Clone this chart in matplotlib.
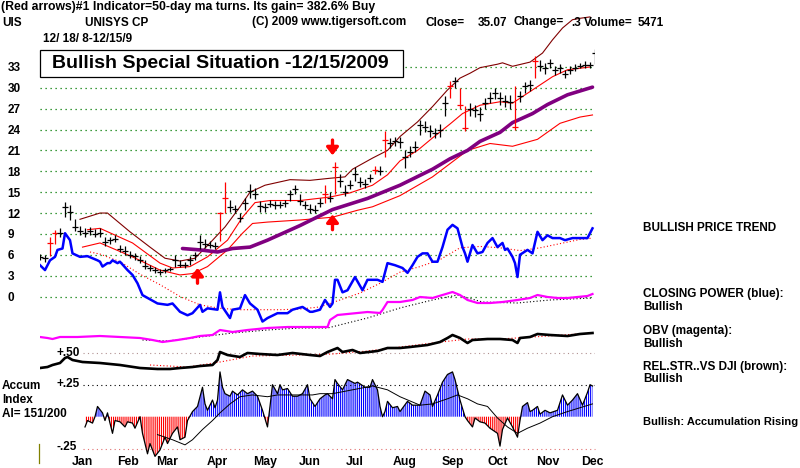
import matplotlib
matplotlib.use("Agg")
import matplotlib.pyplot as plt
from matplotlib.patches import Rectangle
from matplotlib.lines import Line2D
import numpy as np

plt.rcParams["font.family"] = ["Liberation Sans", "DejaVu Sans"]
plt.rcParams["font.weight"] = "bold"
plt.rcParams["hatch.linewidth"] = 0.8

W, H = 800, 468

# price bars, one bar for every two sessions, 12/18/08 .. 12/15/09
bar_close = [5.7, 5.5, 7.7, 9.2, 9.2, 12.8, 12.2, 10.0, 9.4, 9.1,
             9.4, 9.0, 9.2, 7.9, 8.1, 8.3, 6.9, 6.5, 6.0, 5.8,
             5.2, 4.4, 4.1, 3.8, 3.5, 3.8, 3.9, 5.3, 4.6, 4.5,
             5.3, 5.9, 7.9, 7.6, 7.4, 7.3, 12.0, 14.2, 12.9, 12.6,
             11.3, 13.5, 15.2, 14.8, 13.0, 12.8, 13.3, 13.1, 13.2, 13.4,
             14.8, 15.4, 13.8, 13.2, 12.6, 12.5, 13.5, 14.8, 14.2, 18.6,
             16.6, 15.0, 16.1, 17.6, 16.4, 16.2, 17.0, 18.2, 18.0, 22.5,
             22.0, 22.3, 22.2, 20.0, 20.8, 21.5, 24.6, 24.4, 23.8, 23.5,
             24.0, 27.8, 30.2, 31.0, 27.5, 24.2, 27.0, 26.8, 26.3, 27.8,
             28.6, 29.3, 28.6, 28.1, 28.0, 24.4, 28.8, 30.2, 30.4, 33.8,
             33.2, 32.8, 33.6, 32.5, 32.8, 32.0, 32.6, 32.9, 33.2, 33.3,
             33.3, 35.0]
bar_low = [5.2, 5.0, 5.8, 7.5, 8.5, 11.5, 11.0, 9.4, 8.8, 8.6,
           8.8, 8.5, 8.6, 7.2, 7.6, 7.8, 6.4, 6.0, 5.6, 5.3,
           4.8, 4.0, 3.7, 3.4, 3.1, 3.4, 3.6, 4.3, 4.2, 4.1,
           4.5, 5.2, 6.8, 7.0, 7.0, 6.9, 8.0, 12.0, 12.2, 12.0,
           10.7, 12.5, 14.2, 14.0, 12.2, 12.2, 12.8, 12.6, 12.7, 12.9,
           13.8, 14.7, 13.2, 12.6, 12.0, 12.0, 12.9, 13.5, 13.6, 14.8,
           15.8, 14.4, 15.4, 16.6, 15.8, 15.6, 16.4, 17.6, 17.4, 20.0,
           21.3, 21.6, 21.4, 18.5, 20.0, 20.8, 23.2, 23.6, 23.0, 22.8,
           23.0, 26.0, 28.6, 30.0, 27.0, 23.8, 26.0, 25.8, 25.2, 27.0,
           27.8, 28.4, 27.6, 27.2, 27.0, 24.0, 28.0, 29.2, 29.6, 31.4,
           32.4, 32.0, 32.8, 31.8, 32.2, 31.4, 32.0, 32.4, 32.8, 32.9,
           32.9, 33.4]
bar_high = [6.1, 6.0, 8.5, 9.5, 9.8, 13.6, 13.2, 11.2, 10.2, 9.8,
            10.0, 9.7, 9.9, 8.6, 8.6, 8.8, 7.4, 7.2, 6.6, 6.3,
            5.8, 5.2, 4.6, 4.2, 4.0, 4.1, 4.2, 6.0, 5.3, 5.0,
            5.8, 6.4, 8.8, 8.3, 8.0, 7.9, 12.2, 16.4, 13.9, 13.2,
            12.0, 14.2, 16.2, 15.6, 13.8, 13.4, 13.9, 13.7, 13.7, 13.9,
            15.3, 16.0, 14.8, 13.8, 13.3, 13.2, 14.2, 16.0, 15.0, 19.3,
            17.6, 16.0, 16.8, 18.6, 17.2, 16.9, 17.6, 18.7, 18.7, 23.8,
            22.8, 23.0, 23.0, 21.0, 21.6, 22.4, 25.4, 25.2, 24.6, 24.2,
            24.8, 28.8, 31.0, 31.6, 30.0, 27.4, 27.8, 27.6, 27.2, 28.6,
            29.4, 30.0, 29.4, 29.0, 29.0, 30.2, 29.6, 30.8, 31.2, 34.6,
            34.0, 33.6, 34.2, 33.2, 33.4, 32.6, 33.2, 33.4, 33.6, 33.8,
            33.7, 35.6]
red_bars = [2, 3, 36, 37, 57, 59, 67, 69, 82, 84, 85, 95, 99]

# bands and moving averages (session, price)
upper_days = [16, 24, 27, 36, 44, 50, 56, 62, 68, 74, 80, 84, 90, 100, 108, 116,
              122, 125, 133, 139, 144, 151, 157, 163, 168, 172, 176, 183, 185,
              189, 196, 201, 205, 209, 213, 216, 220]
upper_vals = [11.1, 12.0, 12.0, 9.3, 7.1, 5.5, 5.1, 5.5, 7.7, 10.0, 12.9, 15.0,
              16.0, 16.8, 16.7, 17.0, 17.2, 18.3, 19.9, 21.0, 23.0, 25.1, 27.3,
              29.7, 31.4, 32.1, 32.9, 33.4, 33.6, 33.1, 33.7, 35.0, 36.9, 38.6,
              39.8, 40.0, 40.2]
mid_days = [19, 24, 37, 48, 53, 60, 67, 75, 81, 86, 92, 104, 116, 124, 133, 139,
            144, 151, 157, 164, 169, 176, 184, 189, 197, 205, 211, 220]
mid_vals = [9.6, 9.8, 7.7, 4.8, 4.1, 4.3, 5.7, 8.1, 11.4, 13.5, 13.8, 13.8, 14.3,
            14.9, 16.0, 17.5, 19.5, 21.0, 22.8, 24.8, 26.3, 27.5, 28.0, 27.8,
            29.7, 31.6, 32.6, 33.0]
lower_days = [17, 24, 37, 48, 56, 61, 67, 75, 81, 85, 91, 104, 117, 127, 133, 144,
              157, 171, 180, 189, 199, 208, 216, 221]
lower_vals = [7.1, 7.7, 5.7, 3.8, 3.1, 3.3, 4.3, 6.7, 9.1, 10.5, 10.7, 11.0, 11.4,
              12.4, 12.9, 14.5, 17.2, 21.0, 22.0, 21.6, 22.6, 24.9, 25.8, 26.1]
ma50_days = [57, 64, 71, 77, 84, 91, 104, 117, 131, 144, 157, 164, 171, 176, 184,
             189, 197, 203, 211, 221]
ma50_vals = [6.9, 6.7, 6.4, 6.9, 7.1, 8.1, 10.2, 12.5, 14.1, 16.0, 18.3, 19.8,
             21.0, 22.3, 23.6, 25.0, 26.3, 27.6, 29.0, 30.1]

# closing power (blue) on the price scale, with its moving average
cp_days = [0, 2, 4, 6, 7, 9, 10, 12, 13, 16, 19, 21, 23, 24, 25, 27, 28, 29, 31,
           32, 35, 37, 39, 41, 47, 51, 53, 56, 59, 61, 64, 65, 67, 71, 72, 73, 76,
           77, 80, 82, 84, 87, 89, 91, 95, 99, 101, 105, 108, 109, 112, 114, 116,
           117, 118, 119, 121, 123, 126, 129, 131, 135, 137, 139, 142, 145, 147,
           149, 151, 153, 155, 157, 159, 161, 163, 165, 167, 169, 170, 171, 173,
           175, 177, 179, 181, 183, 185, 186, 187, 189, 190, 191, 192, 195, 197,
           199, 201, 203, 205, 208, 210, 213, 215, 219, 221]
cp_vals = [4.5, 3.8, 5.2, 5.7, 6.7, 6.9, 9.1, 8.1, 6.2, 5.7, 5.8, 5.5, 5.2, 5.0,
           4.3, 4.8, 4.8, 5.2, 4.8, 5.0, 3.8, 3.1, 1.9, 0.2, -1.0, -1.2, -1.0,
           -2.2, -2.7, -2.4, -1.2, -2.2, -1.7, -1.9, 0.6, -1.5, -3.1, -1.9, -1.7,
           0.2, -1.0, -1.9, -3.6, -3.1, -2.4, -2.4, -1.9, -1.5, -2.2, -2.2, -1.9,
           -0.5, -1.5, -1.0, 2.4, 2.4, 0.6, 0.9, 2.8, 0.9, 2.4, 2.4, 2.1, 4.8,
           4.5, 4.1, 3.4, 4.5, 5.7, 6.2, 6.2, 5.0, 5.0, 7.1, 9.6, 10.3, 9.8, 7.1,
           6.2, 5.0, 7.4, 6.2, 6.4, 7.7, 8.4, 7.1, 7.7, 6.7, 6.9, 5.7, 4.8, 2.8,
           6.0, 6.7, 6.2, 9.3, 8.1, 8.8, 8.4, 8.4, 8.1, 8.4, 8.4, 8.4, 9.8]
cpma_days = [20, 24, 32, 40, 48, 56, 64, 72, 80, 88, 96, 104, 112, 120, 128, 136,
             144, 152, 160, 168, 176, 184, 192, 200, 208, 216, 221]
cpma_vals = [6.4, 6.1, 5.0, 3.2, 1.7, 0.0, -1.2, -1.7, -1.9, -1.9, -1.9, -1.8,
             -1.5, -0.5, 0.5, 1.9, 3.5, 4.3, 5.3, 7.0, 7.2, 7.0, 6.6, 7.0, 7.6,
             8.2, 8.4]

# on-balance volume (magenta) and its moving average
obv_days = [0, 3, 5, 8, 15, 24, 32, 40, 45, 49, 55, 60, 64, 69, 72, 77, 83, 87,
            91, 99, 104, 112, 115, 116, 119, 131, 136, 137, 139, 144, 149, 152,
            157, 161, 165, 168, 171, 175, 180, 185, 191, 196, 199, 203, 207, 211,
            215, 219, 221]
obv_vals = [13, 12, 11, 13, 13, 14, 13, 12, 10, 8, 10, 12, 14, 15, 20, 18, 20,
            21, 22, 23, 23, 23, 23, 30, 35, 38, 37, 40, 48, 48, 50, 53, 52, 55,
            58, 55, 50, 47, 47, 48, 50, 52, 55, 53, 52, 52, 53, 54, 56]
obvma_days = [41, 51, 64, 77, 91, 104, 115, 131, 144, 157, 167, 177, 191, 204, 221]
obvma_vals = [10, 9, 13, 17, 20, 22, 22, 32, 42, 50, 55, 48, 47, 50, 52]

# relative strength vs DJI (brown/black) and its moving average
rs_days = [0, 3, 5, 8, 10, 11, 13, 17, 24, 32, 40, 47, 52, 56, 61, 64, 69, 71,
           72, 75, 80, 83, 88, 95, 101, 108, 112, 115, 117, 119, 121, 125, 128,
           135, 139, 144, 148, 155, 160, 163, 165, 168, 171, 173, 179, 184, 189,
           191, 192, 196, 199, 204, 211, 216, 221]
rs_vals = [0.35, 0.36, 0.38, 0.40, 0.45, 0.46, 0.43, 0.41, 0.40, 0.38, 0.35,
           0.34, 0.34, 0.35, 0.36, 0.37, 0.38, 0.43, 0.51, 0.48, 0.46, 0.50,
           0.49, 0.48, 0.50, 0.48, 0.47, 0.51, 0.53, 0.55, 0.51, 0.53, 0.50,
           0.52, 0.55, 0.55, 0.56, 0.58, 0.61, 0.65, 0.68, 0.65, 0.60, 0.63,
           0.64, 0.64, 0.63, 0.60, 0.65, 0.66, 0.69, 0.68, 0.67, 0.69, 0.70]
rsma_days = [44, 59, 72, 85, 104, 117, 131, 144, 157, 171, 184, 197, 221]
rsma_vals = [0.38, 0.36, 0.41, 0.47, 0.48, 0.49, 0.52, 0.56, 0.60, 0.64, 0.64,
             0.66, 0.70]

# accumulation index and its moving average
ai_days = [18, 19, 21, 22, 23, 25, 26, 27, 29, 30, 32, 34, 35, 37, 38, 40, 41,
           43, 44, 46, 48, 50, 51, 53, 55, 56, 58, 59, 61, 63, 65, 66, 67, 69,
           70, 71, 72, 73, 74, 76, 77, 79, 81, 83, 85, 87, 89, 91, 92, 93, 95,
           96, 97, 99, 101, 103, 105, 107, 108, 110, 112, 114, 115, 117, 118,
           119, 121, 123, 126, 127, 130, 132, 133, 135, 136, 137, 138, 139, 141,
           143, 144, 147, 149, 152, 154, 156, 157, 159, 161, 163, 165, 166, 168,
           170, 171, 173, 174, 176, 178, 180, 183, 184, 185, 187, 189, 191, 192,
           193, 195, 196, 197, 199, 200, 202, 204, 207, 209, 211, 213, 215, 217,
           219, 220, 221]
ai_vals = [-0.08, -0.03, -0.05, 0.0, 0.08, 0.03, -0.03, 0.03, -0.13, -0.03,
           -0.04, -0.08, -0.04, -0.05, -0.09, 0.0, -0.13, -0.29, -0.21, -0.31,
           -0.26, -0.16, -0.21, -0.13, -0.08, -0.18, -0.16, -0.03, 0.04, 0.08,
           0.23, 0.10, 0.05, 0.13, 0.07, 0.13, 0.35, 0.23, 0.18, 0.16, 0.20,
           0.17, 0.21, 0.18, 0.20, 0.16, 0.05, -0.08, 0.08, 0.25, 0.18, 0.25,
           0.21, 0.22, 0.16, 0.16, 0.18, 0.25, 0.14, 0.08, 0.14, 0.17, 0.18,
           0.14, 0.29, 0.26, 0.21, 0.29, 0.26, 0.27, 0.23, 0.23, 0.29, 0.21,
           0.08, 0.0, 0.04, 0.12, 0.07, 0.08, 0.04, 0.12, 0.09, 0.09, 0.20,
           0.17, 0.08, 0.17, 0.27, 0.33, 0.35, 0.29, 0.13, 0.0, -0.03, -0.08,
           -0.01, -0.04, -0.05, -0.09, -0.13, -0.23, -0.10, -0.01, -0.08, -0.16,
           -0.03, 0.08, 0.11, 0.04, 0.05, 0.08, 0.02, 0.05, 0.03, 0.05, 0.17,
           0.09, 0.13, 0.18, 0.09, 0.19, 0.25, 0.24]
aima_days = [47, 53, 58, 61, 65, 69, 72, 76, 80, 85, 91, 95, 101, 109, 112, 117,
             125, 133, 139, 144, 152, 157, 163, 167, 171, 175, 179, 183, 187, 191,
             195, 200, 205, 211, 216, 221]
aima_vals = [-0.14, -0.18, -0.22, -0.18, -0.10, -0.03, 0.03, 0.10, 0.156, 0.17,
             0.156, 0.17, 0.17, 0.17, 0.18, 0.18, 0.21, 0.24, 0.21, 0.156, 0.09,
             0.10, 0.14, 0.17, 0.14, 0.10, 0.08, -0.01, -0.08, -0.13, -0.09,
             -0.05, 0.0, 0.04, 0.07, 0.10]

# signal arrows: session, price at tip, direction
arrow_days = [117, 117, 63]
arrow_tips = [20.3, 11.8, 4.1]
arrow_dirs = ["down", "up", "up"]

price_levels = list(range(0, 34, 3))
month_names = ["Jan", "Feb", "Mar", "Apr", "May", "Jun", "Jul", "Aug", "Sep",
               "Oct", "Nov", "Dec"]
month_pos = [17, 35, 51, 71, 90, 108, 126, 146, 165, 183, 203, 221]

fig = plt.figure(figsize=(W / 100, H / 100), dpi=100)


def panel(top, bottom, lo, hi):
    ax = fig.add_axes([40 / W, 1 - bottom / H, 555 / W, (bottom - top) / H])
    ax.set_xlim(0, 222)
    ax.set_ylim(lo, hi)
    ax.patch.set_visible(False)
    for s in ax.spines.values():
        s.set_visible(False)
    ax.set_xticks([])
    ax.set_yticks([])
    return ax


def ftext(x, y, s, **kw):
    kw.setdefault("fontsize", 8.5)
    fig.text(x / W, 1 - y / H, s, va="center", ha=kw.pop("ha", "left"), **kw)


dots = (0, (1, 3))

# --- price panel
ax = panel(10, 335, (296.5 - 335) / 6.955, (296.5 - 10) / 6.955)
ax.set_yticks(price_levels)
ax.tick_params(axis="y", length=0, pad=23.5, labelsize=8.5)
for lbl in ax.get_yticklabels():
    lbl.set_ha("left")
ax.grid(axis="y", color="#007a00", linestyle=dots, lw=0.9)

ax.plot(upper_days, upper_vals, color="#800000", lw=0.8)
ax.plot(mid_days, mid_vals, color="red", lw=0.8)
ax.plot(lower_days, lower_vals, color="red", lw=0.8)
ax.plot(ma50_days, ma50_vals, color="#800080", lw=2.6, solid_capstyle="round")
ax.plot(cpma_days, cpma_vals, color="red", lw=0.8, linestyle=(0, (1, 2)))
ax.plot(cp_days, cp_vals, color="blue", lw=1.8)

days = np.arange(len(bar_close)) * 2
colors = ["red" if i in red_bars else "black" for i in range(len(bar_close))]
ax.vlines(days, bar_low, bar_high, colors=colors, lw=0.9)
ax.hlines(bar_close, days - 1.1, days + 1.1, colors=colors, lw=0.9)

for d, p, direction in zip(arrow_days, arrow_tips, arrow_dirs):
    off = 11 if direction == "down" else -11
    ax.annotate("", xy=(d, p), xytext=(0, off), textcoords="offset points",
                arrowprops=dict(arrowstyle="-|>,head_width=0.35,head_length=0.45",
                                color="red", lw=2.4, shrinkA=0, shrinkB=0,
                                mutation_scale=10))

# --- OBV panel
ax_obv = panel(280, 350, 0, 70)
ax_obv.plot(obvma_days, obvma_vals, color="black", lw=0.8, linestyle=(0, (1, 2)))
ax_obv.plot(obv_days, obv_vals, color="#ff00ff", lw=1.6)

# --- relative strength panel
ax_rs = panel(325, 385, 0.18, 0.78)
ax_rs.hlines(0.50, 17, 222, colors="#b09090", linestyles=[dots], lw=0.8)
ax_rs.plot(rsma_days, rsma_vals, color="red", lw=0.8, linestyle=(0, (1, 2)))
ax_rs.plot(rs_days, rs_vals, color="black", lw=1.9)

# --- accumulation index panel
ax_ai = panel(350, 455, -(455 - 416.7) / 128, (416.7 - 350) / 128)
ai_x = np.array(ai_days)
ai_y = np.array(ai_vals)
ax_ai.hlines(0.25, 17, 222, colors="black", linestyles=[dots], lw=0.8)
ax_ai.hlines(-0.25, 17, 222, colors="#e07070", linestyles=[dots], lw=0.8,
             clip_on=False)
ax_ai.fill_between(ai_x, 0, ai_y, where=ai_y >= 0, interpolate=True,
                   facecolor="none", edgecolor="blue", hatch="|" * 8,
                   linewidth=0, clip_on=False)
ax_ai.fill_between(ai_x, 0, ai_y, where=ai_y <= 0, interpolate=True,
                   facecolor="none", edgecolor="red", hatch="|" * 8,
                   linewidth=0, clip_on=False)
ax_ai.plot(ai_x, ai_y, color="black", lw=0.9, clip_on=False)
ax_ai.plot(aima_days, aima_vals, color="black", lw=0.7, clip_on=False)
ax_ai.set_xticks(month_pos)
ax_ai.set_xticklabels(month_names, fontsize=8.8)
ax_ai.tick_params(axis="x", length=0, pad=1)

# --- title box
fig.add_artist(Rectangle((40 / W, 1 - 77 / H), 363 / W, 27 / H,
                         transform=fig.transFigure, facecolor="white",
                         edgecolor="black", lw=0.9, zorder=5))
ftext(52, 63.5, "Bullish Special Situation -12/15/2009", fontsize=14, zorder=6)

# --- header
ftext(1, 7, "(Red arrows)#1 Indicator=50-day ma turns. Its gain= 382.6% Buy",
      fontsize=8.8)
ftext(2, 22.5, "UIS")
ftext(85, 22.5, "UNISYS CP")
ftext(252, 22.5, "(C) 2009 www.tigersoft.com")
ftext(426, 22.5, "Close=")
ftext(478, 22.5, "35.07")
ftext(513, 22.5, "Change=")
ftext(571, 22.5, ".3")
ftext(584, 22.5, "Volume=")
ftext(638, 22.5, "5471")
ftext(43, 38.5, "12/ 18/ 8-12/15/9")

# --- left labels
ftext(57, 353, "+.50")
ftext(57, 384, "+.25")
ftext(57, 447, "-.25")
ftext(2, 386, "Accum")
ftext(2, 400, "Index")
ftext(2, 414, "AI= 151/200")
fig.add_artist(Line2D([39 / W, 39 / W], [1 - 444 / H, 1 - 463 / H],
                      color="#808000", lw=0.9))

# --- right labels
ftext(643, 228, "BULLISH PRICE TREND")
ftext(643, 294, "CLOSING POWER (blue):")
ftext(643, 307, "Bullish")
ftext(643, 331, "OBV (magenta):")
ftext(643, 344, "Bullish")
ftext(643, 367, "REL.STR..VS DJI (brown):")
ftext(643, 379, "Bullish")
ftext(643, 422, "Bullish: Accumulation Rising", fontsize=8.0)

fig.savefig("out.png", dpi=100)
